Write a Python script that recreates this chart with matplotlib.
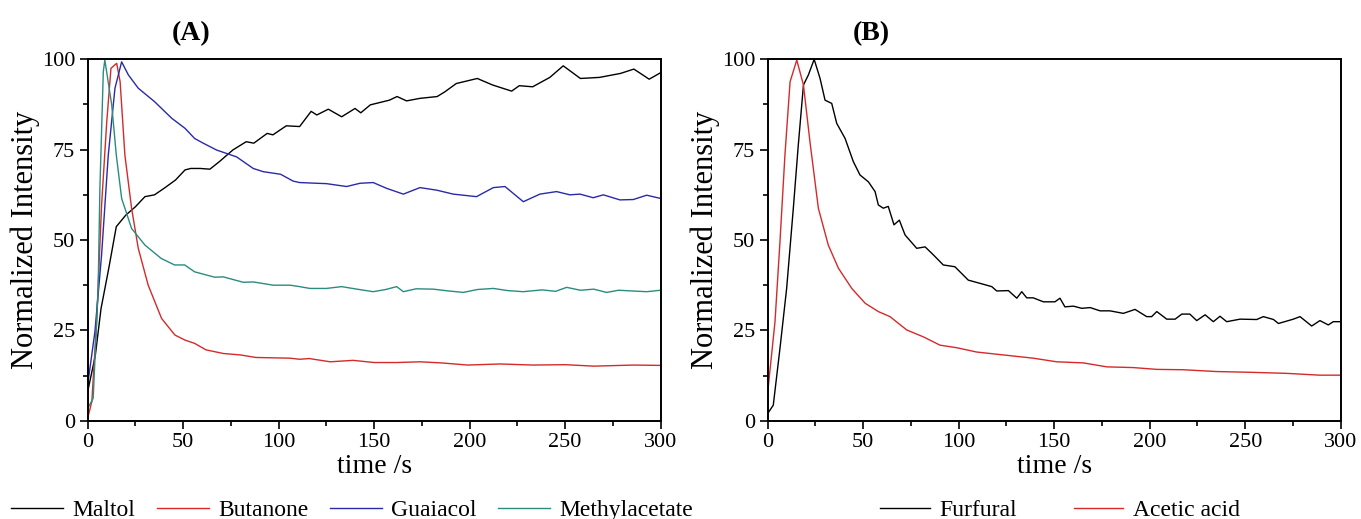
import matplotlib.pyplot as plt
from matplotlib.ticker import MultipleLocator

plt.rcParams['font.family'] = ['Liberation Serif', 'DejaVu Serif']

# ---- panel A ----
maltol_t = [0, 4, 7, 11, 15, 20, 25, 30, 35, 40, 46, 51, 54, 59, 64, 69, 76, 83, 87, 94,
            97, 104, 111, 117, 120, 126, 133, 140, 143, 148, 158, 162, 167, 174, 183, 187,
            193, 204, 212, 222, 226, 233, 242, 249, 258, 268, 279, 286, 294, 300]
maltol_v = [8, 18, 31, 42, 53.7, 56.9, 59.2, 62, 62.5, 64.3, 66.6, 69.4, 69.8, 69.8, 69.6,
            71.7, 74.9, 77.2, 76.8, 79.5, 79.1, 81.6, 81.4, 85.6, 84.6, 86.2, 84.1, 86.4,
            85.2, 87.4, 88.7, 89.7, 88.5, 89.2, 89.7, 91.0, 93.3, 94.7, 92.9, 91.2, 92.7,
            92.4, 95.0, 98.2, 94.7, 95.0, 96.1, 97.3, 94.5, 96.3]

butanone_t = [0, 2.2, 4.7, 7.3, 10, 12.2, 15.2, 17, 19.5, 23, 26.5, 31.7, 38.7, 45.7, 51,
              56, 62, 71, 80, 88, 97, 106, 111, 116, 127, 139, 150, 162, 174, 185, 199,
              216, 233, 250, 265, 286, 300]
butanone_v = [0.7, 5.3, 27.4, 59.7, 82.7, 97.5, 98.9, 93.8, 73.5, 58.8, 47.7, 37.5, 28.3,
              23.7, 22.3, 21.4, 19.6, 18.6, 18.2, 17.5, 17.4, 17.3, 17.0, 17.2, 16.3, 16.7,
              16.1, 16.1, 16.3, 16.0, 15.4, 15.7, 15.4, 15.5, 15.1, 15.4, 15.3]

guaiacol_t = [0, 3.8, 7.3, 10.8, 14.3, 17.8, 21.3, 26.5, 35, 44, 51, 56, 60.5, 67.5, 78,
              86.7, 92, 101, 107.6, 111, 120, 125, 135.6, 142.6, 149.5, 156.5, 165.3, 174,
              182.7, 191.4, 203.6, 212.4, 218.5, 228.1, 236.8, 245.5, 252.5, 257.8, 264.7,
              270, 278.7, 285.7, 292.7, 300]
guaiacol_v = [9.9, 24.6, 45.9, 73.5, 92, 99.3, 95.7, 92, 88.3, 83.7, 80.9, 78.1, 76.8, 74.9,
              73, 69.8, 68.9, 68.2, 66.3, 65.9, 65.7, 65.6, 64.8, 65.7, 65.9, 64.3, 62.7,
              64.5, 63.8, 62.7, 62.0, 64.5, 64.8, 60.6, 62.7, 63.4, 62.5, 62.7, 61.7, 62.5,
              61.1, 61.2, 62.4, 61.5]

methyl_t = [0, 2.9, 5.5, 6.4, 8.2, 9, 12.6, 15, 17.8, 23, 30, 38.5, 45.5, 50.8, 56, 62.3,
            66.6, 71, 81.5, 86.7, 97.2, 106, 111, 116.4, 125, 133, 141, 149.5, 156, 161.8,
            165.3, 172, 181, 189, 196.7, 204, 212.4, 220, 228, 238, 245, 250.8, 258, 265,
            271.7, 278, 285, 292.7, 300]
methyl_v = [3.4, 6.2, 36.6, 64, 96.6, 99.8, 87.4, 73.5, 61.5, 53.2, 48.6, 44.9, 43.1, 43.1,
            41.2, 40.3, 39.7, 39.8, 38.3, 38.4, 37.5, 37.5, 37.1, 36.6, 36.6, 37.1, 36.4,
            35.7, 36.3, 37.1, 35.7, 36.5, 36.4, 35.9, 35.5, 36.3, 36.6, 36.0, 35.7, 36.2,
            35.8, 36.9, 36.1, 36.4, 35.5, 36.1, 35.9, 35.7, 36.1]

# ---- panel B ----
furfural_t = [0, 2.9, 6.4, 9.9, 13.4, 16, 18.7, 21.3, 24.3, 27.4, 30, 33.5, 36.1, 40.5,
              44.8, 48.3, 52.7, 56.2, 57.9, 60.5, 63.1, 66.1, 68.9, 71.9, 78, 82.4, 86.7,
              91.9, 98, 105, 111.2, 117.3, 119.9, 126, 130.4, 133, 135.6, 139, 144.3, 150.4,
              153, 155.6, 160, 164.4, 168.8, 174, 179.2, 186.2, 192.3, 198.4, 201, 203.7,
              208.9, 213.3, 216.8, 221, 224.6, 229, 233.3, 236.8, 240.3, 247.3, 256, 259.5,
              264.8, 267.4, 275.2, 278.7, 284.8, 289.1, 293.5, 296.1, 300]
furfural_v = [2, 4.3, 20, 36.6, 58.8, 76.3, 92.9, 95.7, 100, 94.7, 88.7, 87.8, 82.3, 78.1,
              71.7, 68, 66.1, 63.4, 59.7, 58.8, 59.3, 54.2, 55.5, 51.4, 47.7, 48.1, 45.9,
              43.1, 42.6, 38.9, 38, 37.1, 35.9, 36, 33.9, 35.7, 34, 34, 32.9, 32.9, 33.9, 31.5,
              31.7, 31.1, 31.3, 30.4, 30.4, 29.7, 30.8, 28.8, 28.8, 30.2, 28.1, 28.1, 29.5,
              29.5, 27.7, 29.3, 27.4, 28.9, 27.4, 28.1, 28.0, 28.8, 28.0, 26.9, 28.1, 28.8,
              26.2, 27.7, 26.5, 27.4, 27.4]

acetic_t = [0, 3.8, 6.4, 9, 11.7, 15.2, 18.7, 22.1, 26.5, 31.7, 37, 44, 51, 57.9, 64, 72.8,
            81.5, 90.2, 98.9, 109.4, 121.6, 139, 151.3, 165.2, 177.5, 191.4, 203.7, 217.6,
            235, 252.5, 271.7, 289, 300]
acetic_v = [8, 27.4, 49.5, 73.5, 93.8, 99.8, 92.9, 77.2, 58.8, 48.6, 42.2, 36.6, 32.5, 30.2,
            28.8, 25.1, 23.2, 20.9, 20.2, 19.0, 18.3, 17.3, 16.3, 16.0, 14.9, 14.7, 14.2,
            14.1, 13.6, 13.4, 13.1, 12.6, 12.6]

RED = '#d42a2a'
BLUE = '#2a2aa8'
TEAL = '#2a8c80'

fig = plt.figure(figsize=(13.61, 5.19), dpi=100)
axA = fig.add_axes([0.0644, 0.1894, 0.421, 0.6963])
axB = fig.add_axes([0.5641, 0.1894, 0.421, 0.6963])

axA.plot(maltol_t, maltol_v, color='black', lw=1.0, label='Maltol')
axA.plot(butanone_t, butanone_v, color=RED, lw=1.0, label='Butanone')
axA.plot(guaiacol_t, guaiacol_v, color=BLUE, lw=1.0, label='Guaiacol')
axA.plot(methyl_t, methyl_v, color=TEAL, lw=1.0, label='Methylacetate')

axB.plot(furfural_t, furfural_v, color='black', lw=1.0, label='Furfural')
axB.plot(acetic_t, acetic_v, color=RED, lw=1.0, label='Acetic acid')

for ax, tag in [(axA, '(A)'), (axB, '(B)')]:
    ax.set_xlim(0, 300)
    ax.set_ylim(0, 100)
    ax.xaxis.set_major_locator(MultipleLocator(50))
    ax.xaxis.set_minor_locator(MultipleLocator(25))
    ax.yaxis.set_major_locator(MultipleLocator(25))
    ax.yaxis.set_minor_locator(MultipleLocator(12.5))
    ax.tick_params(which='both', direction='out', labelsize=16, width=1.2)
    ax.tick_params(which='major', length=6, pad=3)
    ax.tick_params(which='minor', length=3.5)
    for s in ax.spines.values():
        s.set_linewidth(1.4)
    ax.set_xlabel('time /s', fontsize=20, labelpad=1)
    ax.set_ylabel('Normalized Intensity', fontsize=22, labelpad=1)
    ax.set_title(tag, fontsize=20, fontweight='bold', x=0.18, pad=14)

fig.legend(*axA.get_legend_handles_labels(), loc='center', ncol=4,
           bbox_to_anchor=(352 / 1361, 1 - 510 / 519), frameon=False,
           fontsize=17, handlelength=2.2, handletextpad=0.4, columnspacing=0.9,
           borderpad=0, borderaxespad=0)
fig.legend(*axB.get_legend_handles_labels(), loc='center', ncol=2,
           bbox_to_anchor=(1060 / 1361, 1 - 510 / 519), frameon=False,
           fontsize=17, handlelength=2.1, handletextpad=0.4, columnspacing=2.4,
           borderpad=0, borderaxespad=0)

fig.savefig('out.png', dpi=100)
